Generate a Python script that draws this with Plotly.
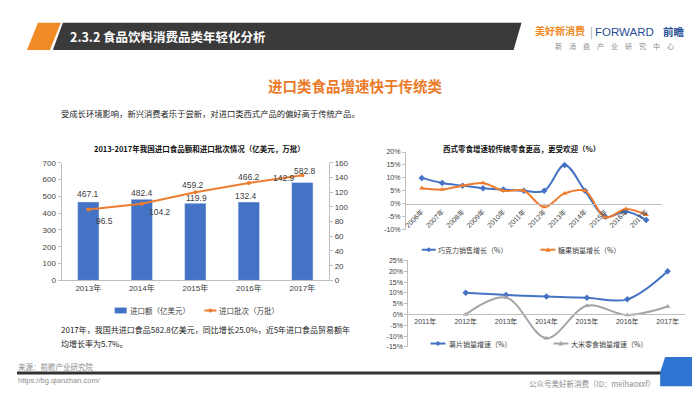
import plotly.graph_objects as go

# ---------------- data ----------------
years_left = ["2013年", "2014年", "2015年", "2016年", "2017年"]
import_value = [467.1, 482.4, 459.2, 466.2, 582.8]      # 亿美元
import_batches = [96.5, 104.2, 119.9, 132.4, 142.9]     # 万批

years_rt = ["2006年", "2007年", "2008年", "2009年", "2010年", "2011年",
            "2012年", "2013年", "2014年", "2015年", "2016年", "2017年"]
chocolate_growth = [10, 8, 7, 6, 5.5, 5, 5, 15, 5, -5, -3, -6.3]
candy_growth = [6, 5.5, 7, 8, 5, 5, -1.3, 4, 5, -5.3, -2, -4.3]

years_rb = ["2011年", "2012年", "2013年", "2014年", "2015年", "2016年", "2017年"]
chips_growth = [None, 10, 9, 8.3, 7.7, 7, 20]
rice_snack_growth = [None, 0, 7.8, -11, 4, -0.2, 3.7]

left_ticks = list(range(0, 701, 100))
right_ticks = list(range(0, 161, 20))
rt_ticks = [-10, -5, 0, 5, 10, 15, 20]
rb_ticks = [-15, -10, -5, 0, 5, 10, 15, 20, 25]

# ---------------- helpers ----------------
W, H = 700, 393
def px(x):
    return x / W
def py(y):
    return 1 - y / H

CJK = "Noto Sans CJK SC"
NUM = "Liberation Sans, Noto Sans CJK SC"
BLUE = "#4472C4"
ORANGE = "#ED7D31"
GRAY = "#A5A5A5"
AXC = "#BFBFBF"
TXT = "#404040"

fig = go.Figure()

# left chart
fig.add_trace(go.Bar(x=years_left, y=import_value, name="进口额（亿美元）",
                     marker=dict(color=BLUE), xaxis="x", yaxis="y"))
fig.add_trace(go.Scatter(x=years_left, y=import_batches, name="进口批次（万批）",
                         mode="lines+markers", line=dict(color=ORANGE, width=2),
                         marker=dict(symbol="circle", size=4, color=ORANGE),
                         xaxis="x", yaxis="y2"))
# right top
fig.add_trace(go.Scatter(x=years_rt, y=chocolate_growth, name="巧克力销售增长（%）",
                         mode="lines+markers",
                         line=dict(color=BLUE, width=2, shape="spline", smoothing=1),
                         marker=dict(symbol="diamond", size=5, color=BLUE),
                         xaxis="x2", yaxis="y3"))
fig.add_trace(go.Scatter(x=years_rt, y=candy_growth, name="糖果销量增长（%）",
                         mode="lines+markers",
                         line=dict(color=ORANGE, width=2, shape="spline", smoothing=1),
                         marker=dict(symbol="triangle-up", size=5, color=ORANGE),
                         xaxis="x2", yaxis="y3"))
# right bottom
fig.add_trace(go.Scatter(x=years_rb, y=chips_growth, name="薯片销量增速（%）",
                         mode="lines+markers",
                         line=dict(color=BLUE, width=2, shape="spline", smoothing=1),
                         marker=dict(symbol="diamond", size=5, color=BLUE),
                         xaxis="x3", yaxis="y4", connectgaps=False))
fig.add_trace(go.Scatter(x=years_rb, y=rice_snack_growth, name="大米零食销量增速（%）",
                         mode="lines+markers",
                         line=dict(color=GRAY, width=2, shape="spline", smoothing=1),
                         marker=dict(symbol="triangle-up", size=5, color=GRAY),
                         xaxis="x3", yaxis="y4", connectgaps=False))

def pct(v):
    return f"{v}%"

axis_common = dict(showgrid=False, zeroline=False, showline=True, linecolor=AXC,
                   linewidth=1, tickfont=dict(family=NUM, size=8, color=TXT))
small_font = dict(family=NUM, size=7, color=TXT)

fig.update_layout(
    width=W, height=H, margin=dict(l=0, r=0, t=0, b=0),
    paper_bgcolor="white", plot_bgcolor="rgba(0,0,0,0)",
    showlegend=False, bargap=0.6,
    font=dict(family=NUM, color=TXT),
    xaxis=dict(domain=[px(51.7), px(320)], anchor="y", type="category",
               ticks="", **axis_common),
    yaxis=dict(domain=[py(274.7), py(154.3)], range=[0, 700], tickvals=left_ticks,
               ticks="outside", ticklen=3, tickcolor=AXC, anchor="x", **axis_common),
    yaxis2=dict(overlaying="y", side="right", anchor="x", range=[0, 160],
                tickvals=right_ticks, ticks="outside", ticklen=3, tickcolor=AXC,
                **axis_common),
    xaxis2=dict(domain=[px(397), px(654)], anchor="free", position=py(196.3),
                type="category", tickangle=-45, ticks="",
                **{**axis_common, "tickfont": small_font}),
    yaxis3=dict(domain=[py(222.7), py(143.3)], range=[-10, 20], anchor="x2",
                tickvals=rt_ticks, ticktext=[pct(v) for v in rt_ticks],
                ticks="outside", ticklen=3, tickcolor=AXC,
                **{**axis_common, "tickfont": small_font}),
    xaxis3=dict(domain=[px(399.5), px(676.5)], anchor="free", position=py(309.3),
                type="category", ticks="",
                **{**axis_common, "tickfont": small_font}),
    yaxis4=dict(domain=[py(342.7), py(254.3)], range=[-15, 25], anchor="x3",
                tickvals=rb_ticks, ticktext=[pct(v) for v in rb_ticks],
                ticks="outside", ticklen=3, tickcolor=AXC,
                **{**axis_common, "tickfont": small_font}),
)

shapes = []
ann = []

def poly(pts, color):
    d = "M " + " L ".join(f"{px(x)},{py(y)}" for x, y in pts) + " Z"
    shapes.append(dict(type="path", path=d, xref="paper", yref="paper",
                       fillcolor=color, line=dict(width=0), layer="above"))

def text(x, y, s, size, color=TXT, anchor="left", family=CJK, bold=False, **kw):
    ann.append(dict(x=px(x), y=py(y), xref="paper", yref="paper", showarrow=False,
                    text=f"<b>{s}</b>" if bold else s, xanchor=anchor, yanchor="middle",
                    borderpad=0, font=dict(family=family, size=size, color=color), **kw))

# header
poly([(28, 11), (51, 11), (40, 39), (17, 39)], "#F08A24")
poly([(53, 11), (513, 11), (505, 39), (43, 39)], "#3A3A3A")
text(59, 25, "2.3.2 食品饮料消费品类年轻化分析", 12.5, "white", bold=True)
text(525, 19, "美好新消费", 10, "#F08A24", bold=True)
text(581, 19, "|", 11, "#9AA3B5")
text(586, 20, "FORWARD", 11.5, "#1F4E96", family="Liberation Sans")
text(654, 20, "前瞻", 10.5, "#1F4E96", bold=True)
text(606, 34.5, "新　消　费　产　业　研　究　中　心", 7, "#8C8C8C", anchor="center")

# headline and intro
text(346, 75.5, "进口类食品增速快于传统类", 14.5, "#EB7A2A", anchor="center", bold=True)
text(50, 103, "受成长环境影响，新兴消费者乐于尝新，对进口类西式产品的偏好高于传统产品。", 8.3, "#222")

# chart titles
text(190, 140, "2013-2017年我国进口食品额和进口批次情况（亿美元，万批）", 7.5, "#111", anchor="center", bold=True)
text(513, 140, "西式零食增速较传统零食更高，更受欢迎（%）", 7.5, "#111", anchor="center", bold=True)

# left chart data labels (anchored to data, shifted like the original)
bar_shift = [(0, 7.5), (0, 6.5), (-2, 18.5), (0, 25), (3, 11)]
line_shift = [(16, -12), (18, -8), (1, -6), (-3, -13), (-18, -2.5)]
for cat, v, (dx, dy) in zip(years_left, import_value, bar_shift):
    ann.append(dict(x=cat, y=v, xref="x", yref="y", showarrow=False, text=f"{v}",
                    xshift=dx, yshift=dy, font=dict(family=NUM, size=8.5, color=TXT)))
for cat, v, (dx, dy) in zip(years_left, import_batches, line_shift):
    ann.append(dict(x=cat, y=v, xref="x", yref="y2", showarrow=False, text=f"{v}",
                    xshift=dx, yshift=dy, font=dict(family=NUM, size=8.5, color=TXT)))

# manual legends
def leg_line(x0, x1, y, color, marker):
    shapes.append(dict(type="line", xref="paper", yref="paper", x0=px(x0), x1=px(x1),
                       y0=py(y), y1=py(y), line=dict(color=color, width=2)))
    cx, r = (x0 + x1) / 2, 2.6
    if marker == "diamond":
        poly([(cx, y - r), (cx + r, y), (cx, y + r), (cx - r, y)], color)
    elif marker == "triangle":
        poly([(cx, y - r), (cx + r, y + r * 0.8), (cx - r, y + r * 0.8)], color)
    else:
        shapes.append(dict(type="circle", xref="paper", yref="paper",
                           x0=px(cx - 2), x1=px(cx + 2), y0=py(y - 2), y1=py(y + 2),
                           fillcolor=color, line=dict(width=0)))

shapes.append(dict(type="rect", xref="paper", yref="paper", x0=px(105), x1=px(117),
                   y0=py(308.5), y1=py(302.5), fillcolor=BLUE, line=dict(width=0)))
text(119, 305.5, "进口额（亿美元）", 7.5)
leg_line(195, 207, 305.5, ORANGE, "circle")
text(208.5, 305.5, "进口批次（万批）", 7.5)

leg_line(413, 427, 243.3, BLUE, "diamond")
text(428.5, 243.3, "巧克力销售增长（%）", 7)
leg_line(532, 547, 243.3, ORANGE, "triangle")
text(549, 243.3, "糖果销量增长（%）", 7)

leg_line(421.7, 436.7, 339.3, BLUE, "diamond")
text(439, 339.3, "薯片销量增速（%）", 7)
leg_line(545, 560, 339.3, GRAY, "triangle")
text(561.5, 339.3, "大米零食销量增速（%）", 7)

# notes under left chart
text(50, 325, "2017年，我国共进口食品582.8亿美元，同比增长25.0%，近5年进口食品贸易额年", 8, "#222")
text(50, 339, "均增长率为5.7%。", 8, "#222")

# footer
text(7, 362.5, "来源：前瞻产业研究院", 7.5, "#8C8C8C")
shapes.append(dict(type="line", xref="paper", yref="paper", x0=px(7), x1=px(653),
                   y0=py(369.5), y1=py(369.5), line=dict(color="#333333", width=3)))
poly([(657, 353), (690, 353), (690, 383), (652, 383), (652, 369)], "#2E74D0")
text(7, 377, "https://bg.qianzhan.com/", 7.5, "#8C8C8C", family="Liberation Sans")
text(648, 380.5, "公众号美好新消费（ID：meihaoxxf）", 7.5, "#8C8C8C", anchor="right")

fig.update_layout(shapes=shapes, annotations=ann)
fig.write_html("out.html")
